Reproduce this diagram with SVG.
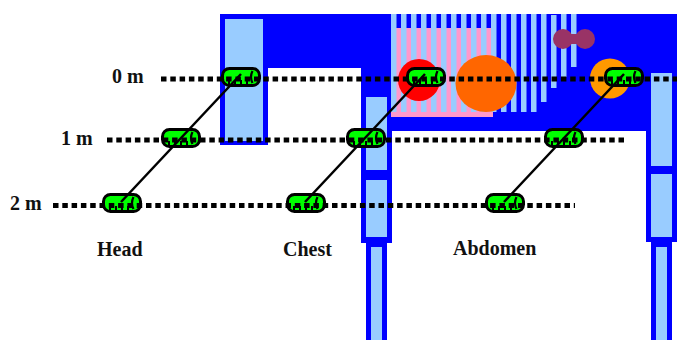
<svg xmlns="http://www.w3.org/2000/svg" xmlns:xlink="http://www.w3.org/1999/xlink" width="677" height="340" viewBox="0 0 677 340">
  <style>
    .blue { fill: #0000FF; }
    .pale { fill: #99CCFF; }
    .dots { stroke: #000; stroke-width: 5; stroke-dasharray: 5.5 3.8; fill: none; }
    .link { stroke: #000; stroke-width: 2.5; fill: none; }
    .lbl { font-family: "Liberation Serif", "Times New Roman", serif; font-weight: bold; font-size: 20px; fill: #111; }
  </style>
  <defs>
    <!-- horizontal capsule sensor, 40 x 20 -->
    <g id="capsule">
      <rect x="1.5" y="1.5" width="37" height="17" rx="7" fill="#00FF00" stroke="#000" stroke-width="3"/>
      <path d="M31.5 4 Q28.5 10 31.5 16" stroke="#000" stroke-width="2.2" fill="none"/>
      <path d="M8 13 V18 M14 13 V18 M20 13 V18 M26 13 V18" stroke="#000" stroke-width="2"/>
    </g>
  </defs>

  <!-- structure -->
  <g id="structure">
    <rect class="blue" x="220" y="14" width="457" height="117"/>
    <rect fill="#fff" x="268" y="68" width="93" height="63"/>
    <rect class="blue" x="220" y="14" width="48" height="131"/>
    <rect class="pale" x="225" y="19" width="38" height="122"/>
    <!-- middle pillar -->
    <rect class="blue" x="361" y="68" width="31" height="175"/>
    <rect class="pale" x="366" y="97" width="21" height="73"/>
    <rect class="pale" x="366" y="180" width="21" height="57"/>
    <rect class="blue" x="366" y="243" width="21" height="97"/>
    <rect class="pale" x="371" y="247" width="11" height="93"/>
    <!-- right pillar -->
    <rect class="blue" x="646" y="131" width="31" height="111"/>
    <rect class="pale" x="651" y="73" width="21" height="93"/>
    <rect class="pale" x="651" y="174" width="21" height="63"/>
    <rect class="blue" x="651" y="242" width="21" height="98"/>
    <rect class="pale" x="656" y="247" width="11" height="93"/>
  </g>

  <!-- organs -->
  <g id="organs">
    <rect fill="#FF99CC" x="391" y="28" width="102" height="89"/>
    <g class="pale">
      <rect x="391" y="14" width="5.5" height="98"/>
      <rect x="401" y="14" width="5.5" height="98"/>
      <rect x="411" y="14" width="5.5" height="98"/>
      <rect x="421" y="14" width="5.5" height="98"/>
      <rect x="431" y="14" width="5.5" height="98"/>
      <rect x="441" y="14" width="5.5" height="98"/>
      <rect x="451" y="14" width="5.5" height="98"/>
      <rect x="461" y="14" width="5.5" height="98"/>
      <rect x="471" y="14" width="5.5" height="98"/>
      <rect x="481" y="14" width="5.5" height="98"/>
      <rect x="491" y="14" width="5.5" height="98"/>
      <rect x="501" y="14" width="5.5" height="98"/>
      <rect x="511" y="14" width="5.5" height="98"/>
      <rect x="521" y="14" width="5.5" height="98"/>
      <rect x="531" y="14" width="5.5" height="98"/>
      <rect x="541" y="14" width="5.5" height="88"/>
      <rect x="551" y="15" width="5.5" height="73"/>
      <rect x="561" y="14" width="5.5" height="63"/>
      <rect x="571" y="14" width="5.5" height="53"/>
    </g>
    <circle fill="#FF0000" cx="419" cy="80" r="21"/>
    <ellipse fill="#FF6600" cx="486" cy="83.5" rx="30.5" ry="28.5"/>
    <g fill="#993366">
      <circle cx="563" cy="39" r="10"/>
      <circle cx="585" cy="39" r="10"/>
      <rect x="563" y="34" width="22" height="10"/>
    </g>
    <circle fill="#FF9900" cx="610" cy="78.5" r="20"/>
  </g>

  <!-- sensors -->
  <g id="head-0"><use xlink:href="#capsule" x="221" y="67"/></g>
  <g id="head-1"><use xlink:href="#capsule" x="161" y="128"/></g>
  <g id="head-2"><use xlink:href="#capsule" x="102" y="193"/></g>
  <g id="chest-0"><use xlink:href="#capsule" x="406" y="67"/></g>
  <g id="chest-1"><use xlink:href="#capsule" x="346" y="128"/></g>
  <g id="chest-2"><use xlink:href="#capsule" x="286" y="193"/></g>
  <g id="abdomen-0"><use xlink:href="#capsule" x="604" y="67"/></g>
  <g id="abdomen-1"><use xlink:href="#capsule" x="544" y="128"/></g>
  <g id="abdomen-2"><use xlink:href="#capsule" x="485" y="193"/></g>

  <!-- depth lines and sensor tethers -->
  <g id="connectors">
    <line class="dots" x1="161" y1="79" x2="677" y2="79"/>
    <line class="dots" x1="107" y1="140" x2="625" y2="140"/>
    <line class="dots" x1="53" y1="205.5" x2="575" y2="205.5"/>
    <line class="link" x1="241" y1="74" x2="121" y2="202"/>
    <line class="link" x1="425" y1="74" x2="305" y2="202"/>
    <line class="link" x1="624" y1="74" x2="504" y2="202"/>
  </g>

  <!-- labels -->
  <g id="labels">
    <text class="lbl" x="112" y="83">0 m</text>
    <text class="lbl" x="61" y="145">1 m</text>
    <text class="lbl" x="10" y="210">2 m</text>
    <text class="lbl" x="97" y="256" font-size="17">Head</text>
    <text class="lbl" x="283" y="256" font-size="17">Chest</text>
    <text class="lbl" x="453" y="255" font-size="17">Abdomen</text>
  </g>
</svg>
